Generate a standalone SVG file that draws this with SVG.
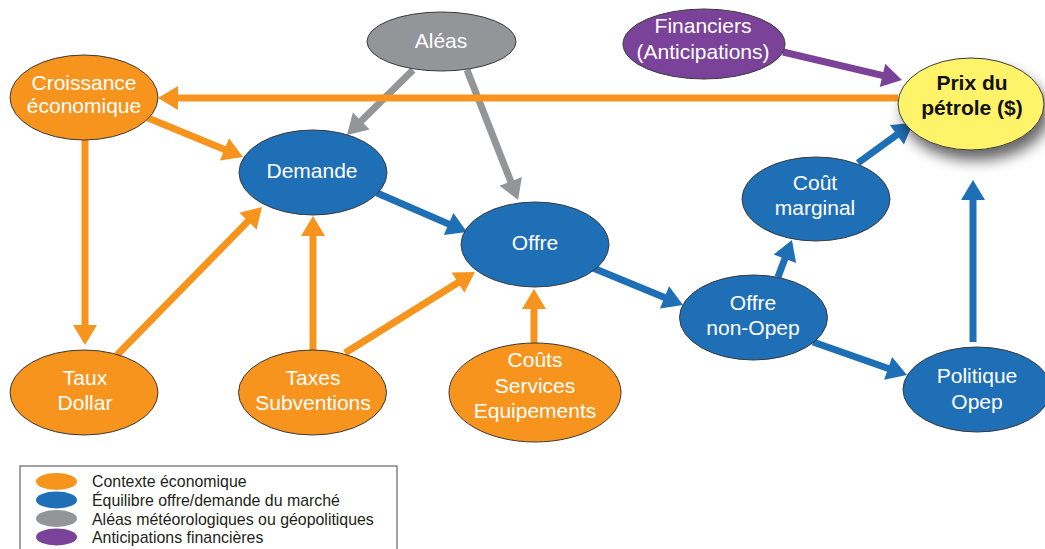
<svg xmlns="http://www.w3.org/2000/svg" width="1045" height="549" viewBox="0 0 1045 549">
<style>
.node{stroke:#3a3a3a;stroke-width:1}
.or{fill:#F7941D}.bl{fill:#1F6FB7}.gr{fill:#939598}.pu{fill:#7A4399}.ye{fill:#FFF36A}
.t{font-family:"Liberation Sans",Arial,Helvetica,sans-serif;font-size:21px;fill:#fff;text-anchor:middle}
.tb{font-family:"Liberation Sans",Arial,Helvetica,sans-serif;font-size:21px;font-weight:bold;fill:#111;text-anchor:middle}
.lg{font-family:"Liberation Sans",Arial,Helvetica,sans-serif;font-size:15.9px;fill:#231F20}
.c{fill:none;stroke-width:7;stroke-linecap:butt}
.co{stroke:#F7941D}.cb{stroke:#1F6FB7}.cg{stroke:#939598}.cp{stroke:#7A4399}
</style>
<defs>
<marker id="ao" markerUnits="userSpaceOnUse" markerWidth="24" markerHeight="26" refX="4" refY="12" orient="auto" overflow="visible"><path d="M0,0 L20,12 L0,24 Z" fill="#F7941D"/></marker>
<marker id="ab" markerUnits="userSpaceOnUse" markerWidth="24" markerHeight="26" refX="4" refY="12" orient="auto" overflow="visible"><path d="M0,0 L20,12 L0,24 Z" fill="#1F6FB7"/></marker>
<marker id="ag" markerUnits="userSpaceOnUse" markerWidth="24" markerHeight="26" refX="4" refY="12" orient="auto" overflow="visible"><path d="M0,0 L20,12 L0,24 Z" fill="#939598"/></marker>
<marker id="ap" markerUnits="userSpaceOnUse" markerWidth="24" markerHeight="26" refX="4" refY="12" orient="auto" overflow="visible"><path d="M0,0 L20,12 L0,24 Z" fill="#7A4399"/></marker>
<filter id="sh" x="-30%" y="-30%" width="170%" height="180%">
<feGaussianBlur in="SourceAlpha" stdDeviation="7"/>
<feOffset dx="5" dy="10" result="b"/>
<feComponentTransfer><feFuncA type="linear" slope="0.6"/></feComponentTransfer>
<feMerge><feMergeNode/><feMergeNode in="SourceGraphic"/></feMerge>
</filter>
</defs>
<rect width="1045" height="549" fill="#fff"/>

<g id="connectors">
<line class="c cg" x1="413" y1="70" x2="358.4" y2="123.8" marker-end="url(#ag)"/>
<line class="c cg" x1="467" y1="70" x2="512.2" y2="185.1" marker-end="url(#ag)"/>
<line class="c co" x1="898" y1="98" x2="174" y2="98" marker-end="url(#ao)"/>
<line class="c co" x1="148" y1="118" x2="228.2" y2="150.9" marker-end="url(#ao)"/>
<line class="c co" x1="85" y1="138" x2="85" y2="329" marker-end="url(#ao)"/>
<line class="c co" x1="117" y1="355" x2="250.8" y2="218.4" marker-end="url(#ao)"/>
<line class="c co" x1="313" y1="352" x2="313" y2="232" marker-end="url(#ao)"/>
<line class="c co" x1="345" y1="353" x2="461.4" y2="280.5" marker-end="url(#ao)"/>
<line class="c co" x1="534" y1="345" x2="534" y2="305" marker-end="url(#ao)"/>
<line class="c cb" x1="377" y1="193" x2="452.3" y2="225.6" marker-end="url(#ab)"/>
<line class="c cb" x1="593" y1="268" x2="668.2" y2="298.9" marker-end="url(#ab)"/>
<line class="c cb" x1="778" y1="277" x2="786.3" y2="255" marker-end="url(#ab)"/>
<line class="c cb" x1="813" y1="342" x2="891.9" y2="369.7" marker-end="url(#ab)"/>
<line class="c cb" x1="973" y1="342" x2="973" y2="196" marker-end="url(#ab)"/>
<line class="c cb" x1="858" y1="163" x2="900.1" y2="132.4" marker-end="url(#ab)"/>
<line class="c cp" x1="783" y1="52" x2="886.4" y2="76.3" marker-end="url(#ap)"/>
</g>

<g id="croissance"><ellipse class="node or" cx="84" cy="97.5" rx="74" ry="42.5"/><text class="t" x="84" y="90">Croissance</text><text class="t" x="84" y="113">économique</text></g>
<g id="aleas"><ellipse class="node gr" cx="441.5" cy="41.5" rx="74.5" ry="29.5"/><text class="t" x="441" y="48">Aléas</text></g>
<g id="financiers"><ellipse class="node pu" cx="704" cy="44" rx="81" ry="35"/><text class="t" x="703" y="33">Financiers</text><text class="t" x="703" y="59">(Anticipations)</text></g>
<g id="prix"><ellipse class="node ye" cx="971" cy="104" rx="73" ry="46" filter="url(#sh)"/><text class="tb" x="972" y="90">Prix du</text><text class="tb" x="972" y="115">pétrole ($)</text></g>
<g id="demande"><ellipse class="node bl" cx="313" cy="172.5" rx="74" ry="42.5"/><text class="t" x="312" y="178">Demande</text></g>
<g id="offre"><ellipse class="node bl" cx="535" cy="244.5" rx="74" ry="42.5"/><text class="t" x="535" y="250">Offre</text></g>
<g id="cout-marginal"><ellipse class="node bl" cx="816" cy="199" rx="74" ry="42"/><text class="t" x="815" y="190">Coût</text><text class="t" x="815" y="215">marginal</text></g>
<g id="offre-non-opep"><ellipse class="node bl" cx="753.5" cy="317.5" rx="74" ry="42.5"/><text class="t" x="753" y="310">Offre</text><text class="t" x="753" y="335">non-Opep</text></g>
<g id="politique-opep"><ellipse class="node bl" cx="977" cy="389.5" rx="74" ry="42.5"/><text class="t" x="977" y="383">Politique</text><text class="t" x="977" y="409">Opep</text></g>
<g id="taux-dollar"><ellipse class="node or" cx="84" cy="392.5" rx="74" ry="42.5"/><text class="t" x="85" y="385">Taux</text><text class="t" x="85" y="410">Dollar</text></g>
<g id="taxes"><ellipse class="node or" cx="312.5" cy="392.5" rx="74" ry="42.5"/><text class="t" x="313" y="385">Taxes</text><text class="t" x="313" y="410">Subventions</text></g>
<g id="couts"><ellipse class="node or" cx="535" cy="392.5" rx="86" ry="49.5"/><text class="t" x="535" y="367">Coûts</text><text class="t" x="535" y="393">Services</text><text class="t" x="535" y="418">Equipements</text></g>

<g id="legend">
<rect x="20" y="466" width="377" height="100" fill="none" stroke="#444" stroke-width="1"/>
<ellipse cx="56.5" cy="481.5" rx="20.5" ry="8.5" fill="#F7941D"/>
<ellipse cx="56.5" cy="500" rx="20.5" ry="8.5" fill="#1F6FB7"/>
<ellipse cx="56.5" cy="518.5" rx="20.5" ry="8.5" fill="#939598"/>
<ellipse cx="56.5" cy="537" rx="20.5" ry="8.5" fill="#7A4399"/>
<text class="lg" x="92" y="487">Contexte économique</text>
<text class="lg" x="92" y="506">Équilibre offre/demande du marché</text>
<text class="lg" x="92" y="524.5">Aléas météorologiques ou géopolitiques</text>
<text class="lg" x="92" y="543">Anticipations financières</text>
</g>
</svg>
